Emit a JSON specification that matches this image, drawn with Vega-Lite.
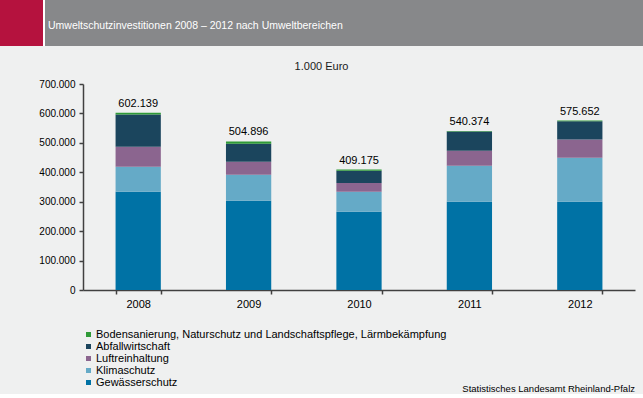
{
  "$schema": "https://vega.github.io/schema/vega-lite/v6.json",
  "background": "#eff0f0",
  "padding": 0,
  "autosize": {"type": "pad"},
  "spacing": 14,
  "config": {
    "view": {"stroke": null},
    "font": "Liberation Sans",
    "locale": {"number": {"decimal": ",", "thousands": ".", "grouping": [3], "currency": ["", " €"]}}
  },
  "datasets": {
    "inv": [
      {"Jahr": "2008", "Bereich": "Gewässerschutz", "Wert": 334000},
      {"Jahr": "2008", "Bereich": "Klimaschutz", "Wert": 85000},
      {"Jahr": "2008", "Bereich": "Luftreinhaltung", "Wert": 68000},
      {"Jahr": "2008", "Bereich": "Abfallwirtschaft", "Wert": 109000},
      {"Jahr": "2008", "Bereich": "Bodensanierung, Naturschutz und Landschaftspflege, Lärmbekämpfung", "Wert": 6139},
      {"Jahr": "2009", "Bereich": "Gewässerschutz", "Wert": 303000},
      {"Jahr": "2009", "Bereich": "Klimaschutz", "Wert": 89000},
      {"Jahr": "2009", "Bereich": "Luftreinhaltung", "Wert": 44000},
      {"Jahr": "2009", "Bereich": "Abfallwirtschaft", "Wert": 61000},
      {"Jahr": "2009", "Bereich": "Bodensanierung, Naturschutz und Landschaftspflege, Lärmbekämpfung", "Wert": 7896},
      {"Jahr": "2010", "Bereich": "Gewässerschutz", "Wert": 265700},
      {"Jahr": "2010", "Bereich": "Klimaschutz", "Wert": 68000},
      {"Jahr": "2010", "Bereich": "Luftreinhaltung", "Wert": 30300},
      {"Jahr": "2010", "Bereich": "Abfallwirtschaft", "Wert": 41000},
      {"Jahr": "2010", "Bereich": "Bodensanierung, Naturschutz und Landschaftspflege, Lärmbekämpfung", "Wert": 4175},
      {"Jahr": "2011", "Bereich": "Gewässerschutz", "Wert": 299700},
      {"Jahr": "2011", "Bereich": "Klimaschutz", "Wert": 122300},
      {"Jahr": "2011", "Bereich": "Luftreinhaltung", "Wert": 51000},
      {"Jahr": "2011", "Bereich": "Abfallwirtschaft", "Wert": 66000},
      {"Jahr": "2011", "Bereich": "Bodensanierung, Naturschutz und Landschaftspflege, Lärmbekämpfung", "Wert": 1374},
      {"Jahr": "2012", "Bereich": "Gewässerschutz", "Wert": 300000},
      {"Jahr": "2012", "Bereich": "Klimaschutz", "Wert": 149600},
      {"Jahr": "2012", "Bereich": "Luftreinhaltung", "Wert": 61400},
      {"Jahr": "2012", "Bereich": "Abfallwirtschaft", "Wert": 62000},
      {"Jahr": "2012", "Bereich": "Bodensanierung, Naturschutz und Landschaftspflege, Lärmbekämpfung", "Wert": 2652}
    ]
  },
  "vconcat": [
    {
      "spacing": 0,
      "hconcat": [
        {"width": 43, "height": 46, "view": {"fill": "#b5123e", "stroke": null},
         "data": {"values": [{"t": ""}]}, "mark": {"type": "text"}, "encoding": {"text": {"field": "t"}}},
        {"width": 2, "height": 46, "view": {"fill": "#ffffff", "stroke": null},
         "data": {"values": [{"t": ""}]}, "mark": {"type": "text"}, "encoding": {"text": {"field": "t"}}},
        {"width": 598, "height": 46, "view": {"fill": "#87888a", "stroke": null},
         "title": {"text": "Umweltschutzinvestitionen 2008 – 2012 nach Umweltbereichen", "anchor": "start", "frame": "group", "orient": "top", "offset": -31, "dx": 3, "color": "#ffffff", "fontSize": 10.5, "fontWeight": "normal", "font": "Liberation Sans"},
         "data": {"values": [{"t": ""}]}, "mark": {"type": "text"}, "encoding": {"text": {"field": "t"}}}
      ]
    },
    {
      "spacing": 0,
      "hconcat": [
        {"width": 1, "height": 206, "data": {"values": [{"t": ""}]}, "mark": {"type": "text"}, "encoding": {"text": {"field": "t"}}},
        {
          "width": 552,
          "height": 206,
          "data": {"name": "inv"},
          "title": {"text": "Statistisches Landesamt Rheinland-Pfalz", "orient": "bottom", "anchor": "end", "frame": "group", "offset": 75, "fontSize": 9.5, "fontWeight": "normal", "color": "#000000", "font": "Liberation Sans"},
          "encoding": {
            "x": {
              "field": "Jahr", "type": "ordinal",
              "scale": {"paddingInner": 0.59, "paddingOuter": 0.295},
              "axis": {
                "title": null,
                "labelAngle": 0, "labelFontSize": 11, "labelColor": "#000000", "labelPadding": 4,
                "tickBand": "extent", "tickSize": 4, "tickColor": "#404040", "domainColor": "#404040", "domainWidth": 1.5, "tickWidth": 1.5
              }
            }
          },
          "layer": [
            {
              "transform": [
                {"calculate": "indexof(['Gewässerschutz', 'Klimaschutz', 'Luftreinhaltung', 'Abfallwirtschaft', 'Bodensanierung, Naturschutz und Landschaftspflege, Lärmbekämpfung'], datum.Bereich)", "as": "Stapelfolge"}
              ],
              "mark": {"type": "bar"},
              "encoding": {
                "y": {
                  "field": "Wert", "type": "quantitative",
                  "scale": {"domain": [0, 700000]},
                  "axis": {
                    "title": "1.000 Euro", "titleAngle": 0, "titleX": 238, "titleY": -17.5, "titleAlign": "center", "titleBaseline": "middle",
                    "titleFontSize": 11, "titleFontWeight": "normal", "titleColor": "#1a1a1a",
                    "format": ",.0f", "values": [0, 100000, 200000, 300000, 400000, 500000, 600000, 700000],
                    "labelOverlap": false, "grid": false, "tickSize": 4, "labelPadding": 4, "labelFontSize": 10, "labelColor": "#000000",
                    "domainColor": "#404040", "domainWidth": 1.5, "tickColor": "#404040", "tickWidth": 1.5, "minExtent": 82
                  }
                },
                "order": {"field": "Stapelfolge", "type": "quantitative", "sort": "ascending"},
                "color": {
                  "field": "Bereich", "type": "nominal",
                  "scale": {
                    "domain": ["Bodensanierung, Naturschutz und Landschaftspflege, Lärmbekämpfung", "Abfallwirtschaft", "Luftreinhaltung", "Klimaschutz", "Gewässerschutz"],
                    "range": ["#2f9a37", "#1b455d", "#8b658f", "#65aac7", "#0072a5"]
                  },
                  "legend": {
                    "title": null, "orient": "none", "legendX": 83, "legendY": 329, "padding": 0,
                    "symbolType": "square", "symbolSize": 25, "symbolStrokeWidth": 0, "labelOffset": 2,
                    "labelFontSize": 11, "labelColor": "#000000", "rowPadding": 0, "labelLimit": 500
                  }
                }
              }
            },
            {
              "mark": {"type": "text", "dy": -9, "fontSize": 11, "color": "#000000", "baseline": "middle"},
              "encoding": {
                "y": {
                  "aggregate": "sum", "field": "Wert", "type": "quantitative",
                  "scale": {"domain": [0, 700000]},
                  "axis": {
                    "title": "1.000 Euro", "titleAngle": 0, "titleX": 238, "titleY": -17.5, "titleAlign": "center", "titleBaseline": "middle",
                    "titleFontSize": 11, "titleFontWeight": "normal", "titleColor": "#1a1a1a",
                    "format": ",.0f", "values": [0, 100000, 200000, 300000, 400000, 500000, 600000, 700000],
                    "labelOverlap": false, "grid": false, "tickSize": 4, "labelPadding": 4, "labelFontSize": 10, "labelColor": "#000000",
                    "domainColor": "#404040", "domainWidth": 1.5, "tickColor": "#404040", "tickWidth": 1.5, "minExtent": 82
                  }
                },
                "text": {"aggregate": "sum", "field": "Wert", "type": "quantitative", "format": ",.0f"}
              }
            }
          ]
        }
      ]
    }
  ]
}
